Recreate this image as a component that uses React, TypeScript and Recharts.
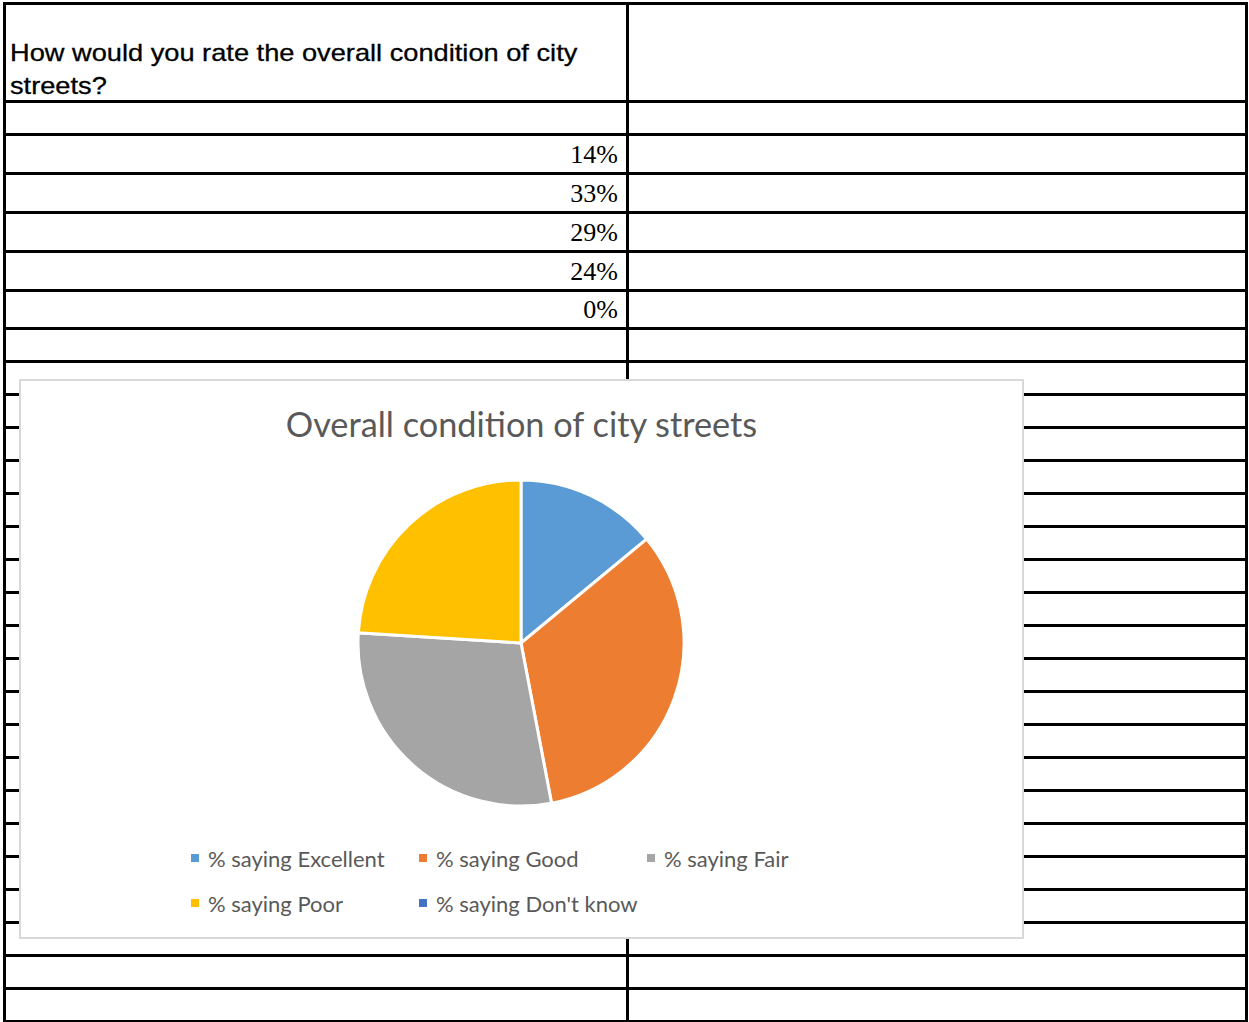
import { Cell, Legend, Pie, PieChart } from "recharts";

const categories = [
  "% saying Excellent",
  "% saying Good",
  "% saying Fair",
  "% saying Poor",
  "% saying Don't know",
];
const shares = [14, 33, 29, 24, 0];
const colors = ["#5B9BD5", "#ED7D31", "#A5A5A5", "#FFC000", "#4472C4"];

const questionLines = ["How would you rate the overall condition of city", "streets?"];
const chartTitle = "Overall condition of city streets";

const pieData = categories.map((name, i) => ({ name, value: shares[i] }));

// sheet row boundaries (y of each horizontal rule)
const rowLines = [3, 101, 134, 173, 212, 251, 290, 328, 361];
for (let y = 394; y <= 1021; y += 33) rowLines.push(y);

const LINE = 3;
const LEFT = 3;
const RIGHT = 1248;
const DIVIDER = 626;

const BOX_W = 1001;
const BOX_H = 556;

function renderLegend() {
  const colX = [170, 398, 626];
  const rowY = [477, 522];
  return (
    <div style={{ position: "relative", width: BOX_W, height: 100 }}>
      {pieData.map((d, i) => (
        <div
          key={d.name}
          style={{
            position: "absolute",
            left: colX[i % 3],
            top: rowY[Math.floor(i / 3)] - 460 - 13,
            height: 26,
            display: "flex",
            alignItems: "center",
            whiteSpace: "nowrap",
            fontFamily: "Lato, sans-serif",
            fontSize: 22,
            color: "#595959",
          }}
        >
          <span
            style={{
              display: "inline-block",
              width: 8,
              height: 8,
              background: colors[i],
              marginRight: 9,
            }}
          />
          {d.name}
        </div>
      ))}
    </div>
  );
}

export default function App() {
  return (
    <div
      style={{
        position: "fixed",
        left: 0,
        top: 0,
        width: 1249,
        height: 1022,
        background: "#fff",
        overflow: "hidden",
      }}
    >
      {/* spreadsheet grid */}
      {rowLines.map((y) => (
        <div
          key={y}
          style={{
            position: "absolute",
            left: LEFT,
            top: y - 1,
            width: RIGHT - LEFT,
            height: LINE,
            background: "#000",
          }}
        />
      ))}
      {[LEFT, DIVIDER, RIGHT - LINE].map((x) => (
        <div
          key={x}
          style={{
            position: "absolute",
            left: x,
            top: 2,
            width: LINE,
            height: 1020,
            background: "#000",
          }}
        />
      ))}

      {questionLines.map((t, i) => (
        <div
          key={t}
          style={{
            position: "absolute",
            left: 10,
            top: 36 + i * 33,
            height: 33,
            lineHeight: "33px",
            whiteSpace: "nowrap",
            fontFamily: "'Liberation Sans', Arial, sans-serif",
            fontSize: 24,
            color: "#000",
            WebkitTextStroke: "0.3px #000",
            transform: "scaleX(1.134)",
            transformOrigin: "0 50%",
          }}
        >
          {t}
        </div>
      ))}

      {shares.map((v, i) => (
        <div
          key={categories[i]}
          style={{
            position: "absolute",
            left: 300,
            width: 318,
            top: rowLines[2 + i] + 1,
            height: rowLines[3 + i] - rowLines[2 + i],
            display: "flex",
            alignItems: "center",
            justifyContent: "flex-end",
            fontFamily: "'Liberation Serif', 'Times New Roman', serif",
            fontSize: 26,
            color: "#000",
          }}
        >
          {v}%
        </div>
      ))}

      {/* chart object */}
      <div
        style={{
          position: "absolute",
          left: 19,
          top: 379,
          width: BOX_W + 4,
          height: BOX_H + 4,
          boxSizing: "border-box",
          background: "#fff",
          border: "2px solid #D9D9D9",
        }}
      >
        <div
          style={{
            position: "absolute",
            left: 0,
            top: 22,
            width: BOX_W,
            textAlign: "center",
            fontFamily: "Lato, sans-serif",
            fontSize: 34.3,
            color: "#595959",
          }}
        >
          {chartTitle}
        </div>
        <PieChart width={BOX_W} height={BOX_H}>
          <Pie
            data={pieData}
            dataKey="value"
            nameKey="name"
            cx={495}
            cy={257}
            outerRadius={163}
            startAngle={90}
            endAngle={-270}
            stroke="#fff"
            strokeWidth={3}
            isAnimationActive={false}
          >
            {pieData.map((d, i) => (
              <Cell key={d.name} fill={colors[i]} />
            ))}
          </Pie>
          <Legend
            content={renderLegend}
            wrapperStyle={{ left: 0, top: 460, width: BOX_W, height: 100 }}
          />
        </PieChart>
      </div>
    </div>
  );
}
